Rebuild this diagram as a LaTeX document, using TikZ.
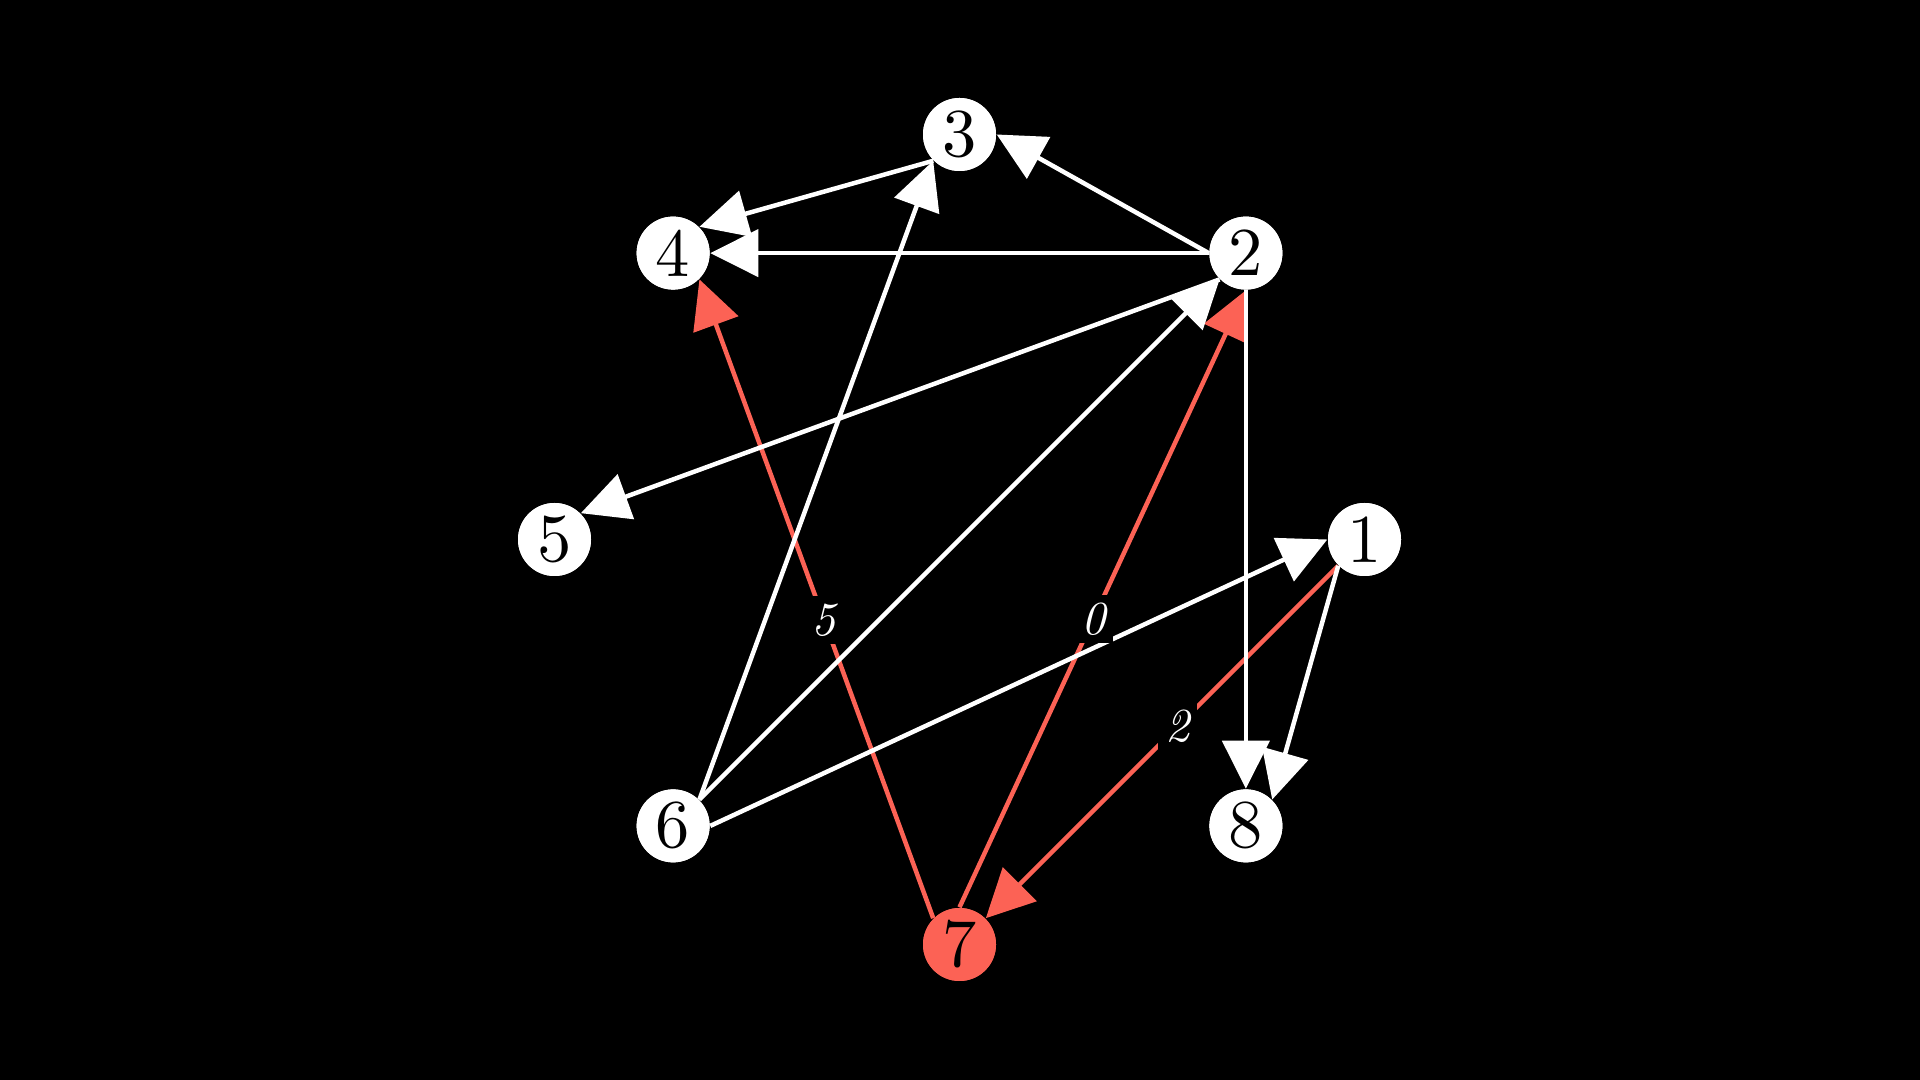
\documentclass[tikz,border=0pt]{standalone}
\usetikzlibrary{arrows.meta}
\definecolor{mred}{HTML}{FC6255}
\newcommand{\vlab}[1]{\scalebox{1.95}{#1}}
\newcommand{\elab}[1]{\scalebox{1.35}{\itshape #1}}
\begin{document}
\begin{tikzpicture}[
  vert/.style={circle, fill=white, minimum size=0.73cm, inner sep=0pt, text=black},
  redvert/.style={vert, fill=mred},
  edge/.style={line width=0.045cm, white, -{Triangle[length=0.48cm,width=0.47cm]}},
  redge/.style={edge, mred},
  elabel/.style={fill=black, text=white, inner sep=0.075cm}
]
\fill[black] (0,0) rectangle (19.2,10.8);
\useasboundingbox (0,0) rectangle (19.2,10.8);
\begin{scope}[shift={(9.595,5.405)}]
  \node[vert] (n3) at (90:4.05) {\vlab{3}};
  \node[vert] (n2) at (45:4.05) {\vlab{2}};
  \node[vert] (n1) at (0:4.05) {\vlab{1}};
  \node[vert] (n8) at (-45:4.05) {\vlab{8}};
  \node[redvert] (n7) at (-90:4.05) {\vlab{7}};
  \node[vert] (n6) at (-135:4.05) {\vlab{6}};
  \node[vert] (n5) at (180:4.05) {\vlab{5}};
  \node[vert] (n4) at (135:4.05) {\vlab{4}};
\end{scope}
% red edges
\draw[redge] (n7.135) -- (n4.-45) coordinate[pos=0.467] (l5);
\draw[redge] (n7.90) -- (n2.-90) coordinate[pos=0.467] (l0);
\draw[redge] (n1.225) -- (n7.45) coordinate[pos=0.455] (l2);
% white edges
\draw[edge] (n2.180) -- (n3.0);
\draw[edge] (n3.225) -- (n4.45);
\draw[edge] (n2.180) -- (n4.0);
\draw[edge] (n2.225) -- (n5.45);
\draw[edge] (n6.45) -- (n2.225);
\draw[edge] (n6.45) -- (n3.225);
\draw[edge] (n6.0) -- (n1.180);
\draw[edge] (n1.225) -- (n8.45);
\draw[edge] (n2.-90) -- (n8.90);
% labels
\node[elabel] (t5) at (l5) {\elab{5}};
\node[elabel] (t0) at (l0) {\elab{0}};
\node[elabel] (t2) at (l2) {\elab{2}};
% redraw nodes on top
\begin{scope}[shift={(9.595,5.405)}]
  \node[vert] at (90:4.05) {\vlab{3}};
  \node[vert] at (45:4.05) {\vlab{2}};
  \node[vert] at (0:4.05) {\vlab{1}};
  \node[vert] at (-45:4.05) {\vlab{8}};
  \node[redvert] at (-90:4.05) {\vlab{7}};
  \node[vert] at (-135:4.05) {\vlab{6}};
  \node[vert] at (180:4.05) {\vlab{5}};
  \node[vert] at (135:4.05) {\vlab{4}};
\end{scope}
\end{tikzpicture}
\end{document}
